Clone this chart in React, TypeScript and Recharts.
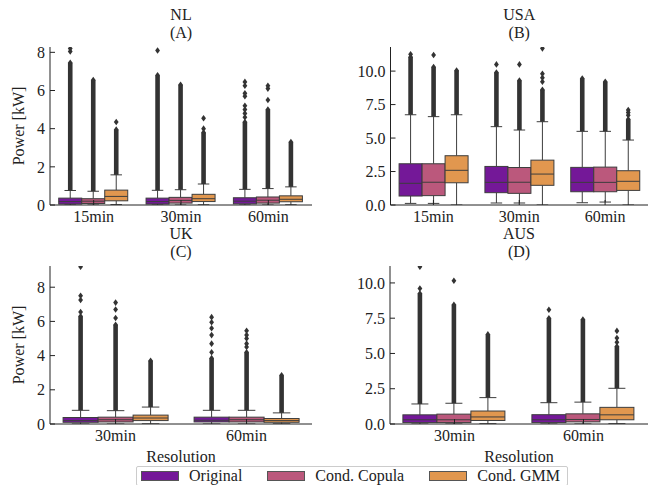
import { ComposedChart, Bar, XAxis, YAxis } from 'recharts';

const FONT = '"Liberation Serif", "DejaVu Serif", serif';
const INK = '#222222';
const LINE = '#3d3d3d';

const SERIES = ['Original', 'Cond. Copula', 'Cond. GMM'];
const COLORS = ['#741898', '#bb587c', '#e1974f'];

// box stats per resolution: [whisker low, q1, median, q3, whisker high, fliers dense up to]
const NL_RES = ['15min', '30min', '60min'];
const NL_ORIGINAL = [
  [0, 0.05, 0.18, 0.36, 0.76, 7.45],
  [0, 0.05, 0.18, 0.36, 0.77, 6.8],
  [0, 0.06, 0.2, 0.38, 0.82, 4.35],
];
const NL_ORIGINAL_FLIERS = [[8.05, 8.2], [8.1], [4.6, 4.8, 5.0, 5.2, 5.7, 5.85, 6.25, 6.45]];
const NL_COPULA = [
  [0, 0.08, 0.2, 0.33, 0.72, 6.55],
  [0, 0.1, 0.24, 0.4, 0.8, 6.3],
  [0, 0.1, 0.25, 0.42, 0.86, 5.0],
];
const NL_COPULA_FLIERS = [[], [], [5.5, 6.1, 6.25]];
const NL_GMM = [
  [0.02, 0.22, 0.45, 0.78, 1.58, 3.95],
  [0.01, 0.18, 0.33, 0.56, 1.1, 3.8],
  [0.01, 0.17, 0.3, 0.48, 0.95, 3.3],
];
const NL_GMM_FLIERS = [[4.35], [4.0, 4.55], []];

const USA_RES = ['15min', '30min', '60min'];
const USA_ORIGINAL = [
  [0.12, 0.67, 1.62, 3.08, 6.74, 11.05],
  [0.15, 0.92, 1.69, 2.88, 5.85, 9.9],
  [0.17, 0.99, 1.69, 2.81, 5.5, 9.45],
];
const USA_ORIGINAL_FLIERS = [[11.25], [10.5], []];
const USA_COPULA = [
  [0.12, 0.7, 1.7, 3.08, 6.6, 10.3],
  [0.15, 0.87, 1.7, 2.8, 5.6, 9.3],
  [0.22, 0.99, 1.69, 2.83, 5.5, 9.2],
];
const USA_COPULA_FLIERS = [[11.2], [10.5], []];
const USA_GMM = [
  [0, 1.66, 2.59, 3.68, 6.74, 10.05],
  [0, 1.47, 2.31, 3.35, 6.22, 8.6],
  [0, 1.09, 1.77, 2.56, 4.85, 6.4],
];
const USA_GMM_FLIERS = [[], [9.2, 9.5, 9.8, 11.7], [6.7, 6.9, 7.1]];

const UK_RES = ['30min', '60min'];
const UK_ORIGINAL = [
  [0, 0.1, 0.2, 0.38, 0.8, 6.3],
  [0, 0.12, 0.22, 0.4, 0.8, 3.85],
];
const UK_ORIGINAL_FLIERS = [[6.55, 7.25, 7.5, 9.2], [4.2, 4.7, 5.2, 5.6, 5.95, 6.25]];
const UK_COPULA = [
  [0, 0.12, 0.25, 0.4, 0.78, 5.8],
  [0, 0.12, 0.25, 0.4, 0.8, 4.2],
];
const UK_COPULA_FLIERS = [[6.2, 6.7, 7.1], [4.5, 4.7, 5.0, 5.2, 5.45]];
const UK_GMM = [
  [0.01, 0.2, 0.35, 0.52, 0.99, 3.7],
  [0.01, 0.1, 0.2, 0.32, 0.65, 2.85],
];
const UK_GMM_FLIERS = [[], []];

const AUS_RES = ['30min', '60min'];
const AUS_ORIGINAL = [
  [0, 0.1, 0.3, 0.65, 1.42, 9.25],
  [0, 0.1, 0.3, 0.66, 1.51, 7.5],
];
const AUS_ORIGINAL_FLIERS = [[9.6, 11.15], [8.1]];
const AUS_COPULA = [
  [0, 0.1, 0.3, 0.7, 1.47, 8.45],
  [0, 0.15, 0.32, 0.72, 1.55, 7.4],
];
const AUS_COPULA_FLIERS = [[10.15], []];
const AUS_GMM = [
  [0.02, 0.25, 0.5, 0.92, 1.87, 6.35],
  [0.02, 0.3, 0.65, 1.18, 2.53, 5.5],
];
const AUS_GMM_FLIERS = [[], [5.8, 6.1, 6.6]];

const INT_TICKS_NL = [0, 2, 4, 6, 8];
const INT_TICKS_UK = [0, 2, 4, 6, 8];
const DEC_TICKS = [0, 2.5, 5, 7.5, 10];

const KEYS = ['s0', 's1', 's2'];

function buildRows(res: string[], stats: number[][][], fliers: number[][][]) {
  return res.map((r, i) => {
    const row: any = { res: r };
    KEYS.forEach((k, j) => {
      row[k] = stats[j][i];
      row[k + 'F'] = fliers[j][i];
      row[k + 'Box'] = [stats[j][i][1], stats[j][i][3]];
    });
    return row;
  });
}

const diamond = (cx: number, cy: number) =>
  `M${cx},${cy - 3.3}L${cx + 2.4},${cy}L${cx},${cy + 3.3}L${cx - 2.4},${cy}Z`;

function BoxShape(props: any) {
  const { x, y, width, height, payload, k, fill } = props;
  const [lo, q1, med, q3, hi, dense] = payload[k];
  const fl: number[] = payload[k + 'F'];
  const top = Math.min(y, y + height);
  const h = Math.abs(height);
  const unit = h / (q3 - q1);
  const py = (v: number) => top + h - (v - q1) * unit;
  const cx = x + width / 2;
  const cap = width / 4;
  return (
    <g>
      <line x1={cx} x2={cx} y1={py(q3)} y2={py(hi)} stroke={LINE} strokeWidth={1} />
      <line x1={cx} x2={cx} y1={py(q1)} y2={py(lo)} stroke={LINE} strokeWidth={1} />
      <line x1={cx - cap} x2={cx + cap} y1={py(hi)} y2={py(hi)} stroke={LINE} strokeWidth={1} />
      <line x1={cx - cap} x2={cx + cap} y1={py(lo)} y2={py(lo)} stroke={LINE} strokeWidth={1} />
      {dense > hi && (
        <g fill="#333">
          <rect x={cx - 2.3} width={4.6} y={py(dense)} height={py(hi) - py(dense)} />
          <path d={diamond(cx, py(dense))} />
        </g>
      )}
      {fl.map((v, i) => (
        <path key={i} d={diamond(cx, py(v))} fill="#333" />
      ))}
      <rect x={x} y={top} width={width} height={h} fill={fill} stroke={LINE} strokeWidth={1} />
      <line x1={x} x2={x + width} y1={py(med)} y2={py(med)} stroke={LINE} strokeWidth={1} />
    </g>
  );
}

const PANELS = [
  {
    title: 'NL', letter: '(A)',
    rows: buildRows(NL_RES, [NL_ORIGINAL, NL_COPULA, NL_GMM], [NL_ORIGINAL_FLIERS, NL_COPULA_FLIERS, NL_GMM_FLIERS]),
    domain: [0, 8.28], ticks: INT_TICKS_NL, fmt: (v: number) => String(v),
    box: { left: 0, top: 0, w: 325, h: 232 }, margin: { top: 47, right: 13, bottom: 2, left: 10 },
    xh: 25, titleY: 15, yLabel: true, xLabel: false,
  },
  {
    title: 'USA', letter: '(B)',
    rows: buildRows(USA_RES, [USA_ORIGINAL, USA_COPULA, USA_GMM], [USA_ORIGINAL_FLIERS, USA_COPULA_FLIERS, USA_GMM_FLIERS]),
    domain: [0, 11.8], ticks: DEC_TICKS, fmt: (v: number) => v.toFixed(1),
    box: { left: 325, top: 0, w: 325, h: 232 }, margin: { top: 47, right: 2, bottom: 2, left: 25.5 },
    xh: 25, titleY: 15, yLabel: false, xLabel: false,
  },
  {
    title: 'UK', letter: '(C)',
    rows: buildRows(UK_RES, [UK_ORIGINAL, UK_COPULA, UK_GMM], [UK_ORIGINAL_FLIERS, UK_COPULA_FLIERS, UK_GMM_FLIERS]),
    domain: [0, 9.24], ticks: INT_TICKS_UK, fmt: (v: number) => String(v),
    box: { left: 0, top: 232, w: 325, h: 253 }, margin: { top: 34, right: 13, bottom: 19, left: 10 },
    xh: 42, titleY: 233.5, yLabel: true, xLabel: true,
  },
  {
    title: 'AUS', letter: '(D)',
    rows: buildRows(AUS_RES, [AUS_ORIGINAL, AUS_COPULA, AUS_GMM], [AUS_ORIGINAL_FLIERS, AUS_COPULA_FLIERS, AUS_GMM_FLIERS]),
    domain: [0, 11.2], ticks: DEC_TICKS, fmt: (v: number) => v.toFixed(1),
    box: { left: 325, top: 232, w: 325, h: 253 }, margin: { top: 34, right: 2, bottom: 19, left: 25 },
    xh: 42, titleY: 233.5, yLabel: false, xLabel: true,
  },
];

const tickStyle = { fontSize: 16, fill: INK, fontFamily: FONT };

function Panel({ p }: { p: any }) {
  const plotLeft = p.box.left + p.margin.left + 40;
  const plotRight = p.box.left + p.box.w - p.margin.right;
  const lineStyle: any = {
    position: 'absolute', left: plotLeft, width: plotRight - plotLeft, height: 12,
    textAlign: 'center', fontSize: 16, lineHeight: '12px',
  };
  return (
    <>
      <div style={{ ...lineStyle, top: p.titleY - 6 }}>{p.title}</div>
      <div style={{ ...lineStyle, top: p.titleY + 12.3 }}>{p.letter}</div>
      <div style={{ position: 'absolute', left: p.box.left, top: p.box.top }}>
        <ComposedChart
          width={p.box.w}
          height={p.box.h}
          data={p.rows}
          margin={p.margin}
          barCategoryGap="10%"
          barGap={0}
        >
          <XAxis
            dataKey="res"
            type="category"
            interval={0}
            height={p.xh}
            tickSize={-5}
            tickMargin={11}
            tick={tickStyle}
            axisLine={{ stroke: INK }}
            tickLine={{ stroke: INK }}
            label={p.xLabel ? { value: 'Resolution', position: 'insideBottom', offset: 4, fontSize: 16, fill: INK } : undefined}
          />
          <XAxis
            xAxisId="top"
            dataKey="res"
            type="category"
            orientation="top"
            interval={0}
            height={0}
            tickSize={-5}
            tick={false}
            axisLine={{ stroke: INK }}
            tickLine={{ stroke: INK }}
          />
          <YAxis
            type="number"
            domain={p.domain}
            ticks={p.ticks}
            interval={0}
            allowDataOverflow
            width={40}
            tickSize={-5}
            tickMargin={10}
            tick={tickStyle}
            tickFormatter={p.fmt}
            axisLine={{ stroke: INK }}
            tickLine={{ stroke: INK }}
            label={p.yLabel ? { value: 'Power [kW]', angle: -90, position: 'insideLeft', offset: 8, fontSize: 16, fill: INK, style: { textAnchor: 'middle' } } : undefined}
          />
          <YAxis
            yAxisId="right"
            type="number"
            orientation="right"
            domain={p.domain}
            ticks={p.ticks}
            interval={0}
            allowDataOverflow
            width={0}
            tickSize={-5}
            tick={false}
            axisLine={{ stroke: INK }}
            tickLine={{ stroke: INK }}
          />
          {KEYS.map((k, j) => (
            <Bar
              key={k}
              dataKey={k + 'Box'}
              name={SERIES[j]}
              fill={COLORS[j]}
              isAnimationActive={false}
              shape={(props: any) => <BoxShape {...props} k={k} fill={COLORS[j]} />}
            />
          ))}
        </ComposedChart>
      </div>
    </>
  );
}

export default function App() {
  return (
    <div
      style={{
        position: 'absolute', left: 0, top: 0, width: 650, height: 485, overflow: 'hidden',
        background: '#fff', fontFamily: FONT, color: INK,
      }}
    >
      {PANELS.map((p) => (
        <Panel key={p.title} p={p} />
      ))}
      <div
        style={{
          position: 'absolute', left: 136, top: 466, width: 426, height: 18,
          border: '1px solid #cccccc', borderRadius: 2, display: 'flex', alignItems: 'center',
          paddingLeft: 4, fontSize: 16, whiteSpace: 'nowrap',
        }}
      >
        {SERIES.map((s, j) => (
          <div key={s} style={{ display: 'flex', alignItems: 'center', marginRight: 25, flexShrink: 0 }}>
            <div
              style={{
                width: 36, height: 8, background: COLORS[j], border: '0.5px solid #555',
                marginRight: 10, flexShrink: 0,
              }}
            />
            <span>{s}</span>
          </div>
        ))}
      </div>
    </div>
  );
}
